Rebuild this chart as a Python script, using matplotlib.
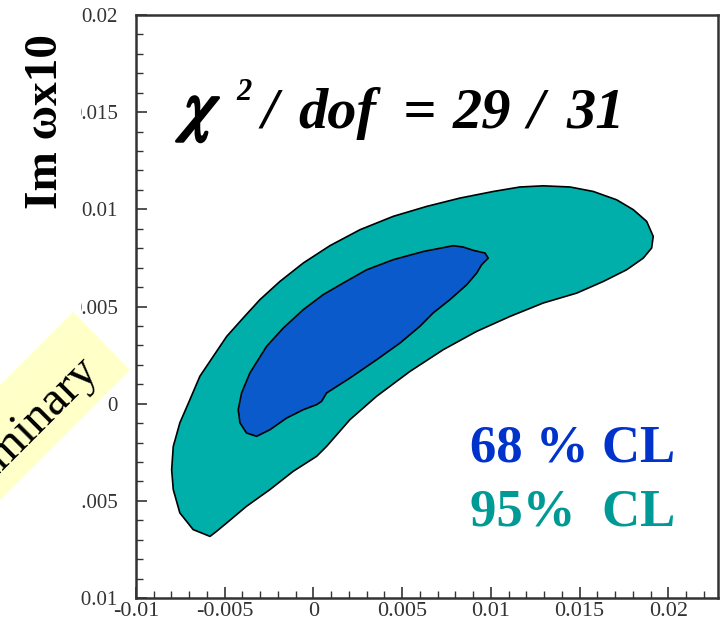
import matplotlib
matplotlib.use("Agg")
import matplotlib.pyplot as plt
import matplotlib.patheffects as pe
from matplotlib.patches import Polygon, Rectangle
from matplotlib.transforms import IdentityTransform
from matplotlib.ticker import MultipleLocator, FixedFormatter, FixedLocator

# ---- data (contour boundaries) ----
outer_x = [-0.00583, -0.00678, -0.00753, -0.00790, -0.00799, -0.00790, -0.00753, -0.00696,
           -0.00640, -0.00565, -0.00489, -0.00396, -0.00302, -0.00189, -0.00057, 0.00093,
           0.00262, 0.00450, 0.00638, 0.00826, 0.01014, 0.01164, 0.01295, 0.01446,
           0.01577, 0.01709, 0.01803, 0.01878, 0.01915, 0.01906, 0.01859, 0.01765,
           0.01634, 0.01484, 0.01295, 0.01108, 0.00920, 0.00732, 0.00544, 0.00356,
           0.00206, 0.00074, 0.00018, -0.00114, -0.00245, -0.00377, -0.00489, -0.00546]
outer_y = [-0.00683, -0.00648, -0.00562, -0.00442, -0.00340, -0.00220, -0.00099, 0.00021,
           0.00141, 0.00243, 0.00346, 0.00441, 0.00535, 0.00629, 0.00724, 0.00813,
           0.00895, 0.00964, 0.01015, 0.01058, 0.01092, 0.01115, 0.01121, 0.01115,
           0.01092, 0.01049, 0.00998, 0.00938, 0.00861, 0.00801, 0.00749, 0.00689,
           0.00629, 0.00569, 0.00518, 0.00449, 0.00372, 0.00278, 0.00166, 0.00038,
           -0.00082, -0.00220, -0.00271, -0.00348, -0.00442, -0.00528, -0.00614, -0.00657]

inner_x = [-0.00320, -0.00377, -0.00414, -0.00424, -0.00405, -0.00358, -0.00264, -0.00170,
           -0.00057, 0.00055, 0.00168, 0.00300, 0.00450, 0.00619, 0.00788, 0.00844,
           0.00901, 0.00967, 0.00985, 0.00948, 0.00920, 0.00864, 0.00769, 0.00675,
           0.00600, 0.00488, 0.00356, 0.00206, 0.00074, 0.00046, 0.00018, -0.00057,
           -0.00151, -0.00245]
inner_y = [-0.00168, -0.00151, -0.00099, -0.00031, 0.00055, 0.00158, 0.00295, 0.00389,
           0.00484, 0.00561, 0.00621, 0.00689, 0.00741, 0.00783, 0.00813, 0.00806,
           0.00789, 0.00775, 0.00749, 0.00715, 0.00672, 0.00612, 0.00535, 0.00467,
           0.00398, 0.00312, 0.00226, 0.00132, 0.00055, 0.00012, -0.00005, -0.00031,
           -0.00074, -0.00134]

x_ticks = [-0.01, -0.005, 0, 0.005, 0.01, 0.015, 0.02]
x_tick_labels = ["-0.01", "-0.005", "0", "0.005", "0.01", "0.015", "0.02"]
y_ticks = [-0.01, -0.005, 0, 0.005, 0.01, 0.015, 0.02]
y_tick_labels = ["-0.01", "-0.005", "0", "0.005", "0.01", "0.015", "0.02"]

W, H = 720, 621
fig = plt.figure(figsize=(W / 100, H / 100), dpi=100)
fig.patch.set_facecolor("white")

L, R, T, B = 136, 718, 15, 598
ax = fig.add_axes([L / W, (H - B) / H, (R - L) / W, (B - T) / H])
ax.set_xlim(-0.01, 0.0228)
ax.set_ylim(-0.01, 0.02)

ax.fill(outer_x, outer_y, facecolor="#00AFAA", edgecolor="black", linewidth=1.2,
        joinstyle="round", zorder=2)
ax.fill(inner_x, inner_y, facecolor="#0A5ACC", edgecolor="black", linewidth=1.2,
        joinstyle="round", zorder=3)

ax.xaxis.set_major_locator(FixedLocator(x_ticks))
ax.xaxis.set_major_formatter(FixedFormatter(x_tick_labels))
ax.yaxis.set_major_locator(FixedLocator(y_ticks))
ax.yaxis.set_major_formatter(FixedFormatter(y_tick_labels))
ax.xaxis.set_minor_locator(MultipleLocator(0.001))
ax.yaxis.set_minor_locator(MultipleLocator(0.001))

ax.tick_params(which="both", direction="in", color="#333333", top=False, right=False)
ax.tick_params(which="major", length=8, width=1.2)
ax.tick_params(which="minor", length=5, width=1.0)
ax.tick_params(axis="x", which="major", pad=3, labelcolor="#333333")
ax.tick_params(axis="y", which="major", pad=13, labelcolor="#333333")
for lab in ax.get_xticklabels():
    lab.set_fontfamily("Liberation Serif")
    lab.set_fontsize(16)
for lab in ax.get_yticklabels():
    lab.set_fontfamily("Liberation Serif")
    lab.set_fontsize(15)
for sp in ax.spines.values():
    sp.set_color("#333333")
    sp.set_linewidth(1.8)

# white mask clipping the left part of the y tick labels
fig.patches.append(Rectangle((0, 0), 81, H, transform=IdentityTransform(),
                             facecolor="white", edgecolor="none", zorder=1))

# "Preliminary" tag
A = (73, H - 312)
Bp = (130, H - 370)
Lg = 420
d = (-0.7071 * Lg, -0.7071 * Lg)
box = Polygon([A, Bp, (Bp[0] + d[0], Bp[1] + d[1]), (A[0] + d[0], A[1] + d[1])],
              closed=True, transform=IdentityTransform(), facecolor="#FFFFC8",
              edgecolor="none", zorder=2)
fig.patches.append(box)
mx, my = (A[0] + Bp[0]) / 2, (A[1] + Bp[1]) / 2
fig.text((mx - 10) / W, (my - 23) / H, "Preliminary", rotation=45, rotation_mode="anchor",
         ha="right", va="center", family="Liberation Serif", fontsize=35, color="black",
         zorder=3)

# y label
fig.text(46 / W, (H - 122) / H, "Im \u03c9x10", rotation=90, ha="center", va="center",
         family="Liberation Serif", fontweight="bold", fontsize=34, zorder=3)

# chi2 annotation, pieces placed as in the picture
chi_font = dict(family="Liberation Serif", fontweight="bold", fontstyle="italic",
                va="baseline", ha="left")
base = (H - 128) / H
fig.text(184 / W, base, r"$\chi$", fontsize=50, math_fontfamily="stix", va="baseline",
         ha="left", path_effects=[pe.withStroke(linewidth=2.2, foreground="black")])
fig.text(236 / W, (H - 100) / H, "2", fontsize=22, **chi_font)
fig.text(262 / W, base, "/", fontsize=42, **chi_font)
fig.text(298 / W, base, "dof", fontsize=42, **chi_font)
fig.text(403 / W, base, "=", fontsize=42, **chi_font)
fig.text(453 / W, base, "29", fontsize=42, **chi_font)
fig.text(528 / W, base, "/", fontsize=42, **chi_font)
fig.text(566 / W, base, "31", fontsize=42, **chi_font)

fig.text(470 / W, (H - 462) / H, "68 % CL", ha="left", va="baseline",
         family="Liberation Serif", fontweight="bold", fontsize=38, color="#0033CC")
fig.text(470 / W, (H - 525) / H, "95%  CL", ha="left", va="baseline",
         family="Liberation Serif", fontweight="bold", fontsize=38, color="#009A96")

fig.savefig("out.png", dpi=100)
